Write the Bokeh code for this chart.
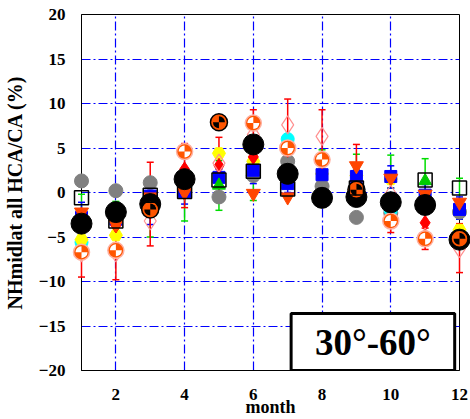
import math
from bokeh.plotting import figure
from bokeh.models import Range1d, FixedTicker, Label
from bokeh.embed import file_html
from bokeh.resources import INLINE

nan = float("nan")
months = [1, 2, 3, 4, 5, 6, 7, 8, 9, 10, 11, 12]
x_ticks = [2, 4, 6, 8, 10, 12]
y_ticks = [-20, -15, -10, -5, 0, 5, 10, 15, 20]

black_circle = [-3.5, -2.2, -1.3, 1.5, nan, 5.4, 2.1, -0.6, -0.5, -1.1, -1.4, -5.3]
open_square = [-0.6, -3.2, -0.3, 0.1, 1.4, 2.4, 0.4, nan, 0.5, nan, 1.4, 0.5]
gray_circle = [1.3, 0.2, 1.1, nan, -0.5, 1.9, 3.5, 0.7, -2.8, -2.3, -1.2, -2.2]
blue_square = [-2.8, -3.0, -0.4, 0.1, 1.7, 2.5, 1.0, 2.0, 1.8, 1.8, -0.3, -1.9]
yellow_pent = [-5.3, -4.8, nan, nan, 4.4, 3.5, nan, 2.1, 1.9, 1.5, nan, -4.2]
cyan_circle = [-5.6, nan, nan, nan, nan, nan, 6.0, nan, nan, -2.0, nan, nan]
green_tri = [nan, nan, nan, nan, 0.8, nan, nan, nan, nan, nan, 1.3, nan]
red_diamond = [-2.5, -3.7, nan, 2.6, 3.0, 4.0, 4.8, 3.5, nan, nan, -3.4, nan]
orange_tri_down = [-2.2, -3.6, -0.5, 0.0, nan, -0.1, -0.5, nan, 3.0, 1.6, -0.2, -1.1]
pink_diamond = [-6.8, -6.8, -3.2, nan, 3.3, 6.5, 7.6, 6.3, nan, -0.2, -5.0, -6.3]
orange_white = [-6.7, -6.5, nan, 4.6, nan, 7.8, 5.0, 3.7, nan, -3.2, -5.2, nan]
orange_black = [nan, nan, -1.9, nan, 7.9, nan, nan, nan, 0.3, nan, nan, -5.2]

red_err_low = [-9.5, -9.8, -6.0, -1.7, 0.0, 6.3, 4.7, 3.3, 0.6, -4.5, -6.4, -9.0]
red_err_high = [-3.9, -3.2, 3.4, 5.5, 6.2, 9.3, 10.5, 9.3, 5.4, -2.0, -4.0, -3.5]
green_err_low = [-4.5, -3.5, -5.0, -3.2, -2.0, -0.9, 1.0, 0.5, 0.8, 0.5, -1.2, -3.0]
green_err_high = [-0.2, -1.0, 1.0, 1.5, 3.6, 3.0, 3.5, 4.8, 4.3, 4.2, 3.8, 1.6]
blue_err_low = [-4.5, -4.4, -3.6, -1.3, 0.5, 1.0, 0.0, 1.0, 0.8, 0.5, -1.5, -3.0]
blue_err_high = [-1.1, -1.2, -0.3, 1.5, 2.6, 3.2, 1.8, 3.0, 2.6, 3.0, 0.9, -0.5]

FONT = "Liberation Serif"
LVL = "overlay"

p = figure(width=470, height=419, output_backend="svg", toolbar_location=None,
           x_range=Range1d(1, 12), y_range=Range1d(-20, 20),
           min_border_left=73, min_border_right=11, min_border_top=14, min_border_bottom=49)
p.background_fill_color = "white"
p.border_fill_color = "white"
p.outline_line_color = "black"
p.outline_line_width = 1

# grid
p.xgrid.ticker = FixedTicker(ticks=[2, 4, 6, 8, 10])
p.ygrid.ticker = FixedTicker(ticks=[-15, -10, -5, 0, 5, 10, 15])
for g in (p.xgrid, p.ygrid):
    g.grid_line_color = "#0000FF"
    g.grid_line_dash = "9 3 2 3"
    g.grid_line_width = 1.2

# axes
p.xaxis.ticker = FixedTicker(ticks=x_ticks)
p.yaxis.ticker = FixedTicker(ticks=y_ticks)
for ax in (p.xaxis, p.yaxis):
    ax.major_tick_line_color = None
    ax.minor_tick_line_color = None
    ax.axis_line_color = "black"
    ax.major_label_text_font = FONT
    ax.major_label_text_font_style = "bold"
    ax.major_label_text_font_size = "17px"
    ax.major_label_text_color = "black"
    ax.axis_label_text_font = FONT
    ax.axis_label_text_font_style = "bold"
    ax.axis_label_text_color = "black"
p.xaxis.axis_label = "month"
p.yaxis.axis_label = "NHmidlat all HCA/CA (%)"
p.xaxis.axis_label_text_font_size = "18px"
p.yaxis.axis_label_text_font_size = "20px"
p.xaxis.major_label_standoff = 12
p.yaxis.major_label_standoff = 10
p.xaxis.axis_label_standoff = -6
p.yaxis.axis_label_standoff = 10

# error bars
def errbars(low, high, color):
    p.segment(x0=months, y0=low, x1=months, y1=high, line_color=color, line_width=1.5, level=LVL)
    p.scatter(x=months, y=low, marker="dash", size=7, line_color=color, line_width=1.5, level=LVL)
    p.scatter(x=months, y=high, marker="dash", size=7, line_color=color, line_width=1.5, level=LVL)

errbars(green_err_low, green_err_high, "#00DD00")
errbars(blue_err_low, blue_err_high, "#0000FF")
errbars(red_err_low, red_err_high, "#FF0000")

# markers
p.scatter(x=months, y=gray_circle, marker="circle", size=14, fill_color="#808080", line_color="#808080", level=LVL)
p.scatter(x=months, y=cyan_circle, marker="circle", size=13, fill_color="#00FFFF", line_color="#00FFFF", level=LVL)
p.scatter(x=months, y=yellow_pent, marker="hex", size=13, fill_color="#FFFF00", line_color="#FFFF00", level=LVL)
p.scatter(x=months, y=blue_square, marker="square", size=12, fill_color="#0000FF", line_color="#0000FF", level=LVL)
p.scatter(x=months, y=green_tri, marker="triangle", size=13, fill_color="#00CC00", line_color="#00CC00", level=LVL)
p.scatter(x=months, y=red_diamond, marker="diamond", size=15, fill_color="#FF0000", line_color="#FF0000", level=LVL)
p.scatter(x=months, y=orange_tri_down, marker="inverted_triangle", size=14, fill_color="#FF4500", line_color="#FF4500", level=LVL)
p.scatter(x=months, y=pink_diamond, marker="diamond", size=18, fill_color=None, line_color="#FF9090", line_width=1.2, level=LVL)

# orange circles with white quadrants
p.scatter(x=months, y=orange_white, marker="circle", size=16, fill_color="#FF5500", line_color="#FFB0A0", line_width=1.5, level=LVL)
p.wedge(x=months, y=orange_white, radius=6, radius_units="screen",
        start_angle=math.pi / 2, end_angle=math.pi, fill_color="white", line_color=None, level=LVL)
p.wedge(x=months, y=orange_white, radius=6, radius_units="screen",
        start_angle=3 * math.pi / 2, end_angle=2 * math.pi, fill_color="white", line_color=None, level=LVL)

# black circles
p.scatter(x=months, y=black_circle, marker="circle", size=21, fill_color="black", line_color="black", level=LVL)

# orange circles with black quadrants
p.scatter(x=months, y=orange_black, marker="circle", size=17, fill_color="#FF5500", line_color="black", line_width=1.5, level=LVL)
p.wedge(x=months, y=orange_black, radius=6, radius_units="screen",
        start_angle=0, end_angle=math.pi / 2, fill_color="black", line_color=None, level=LVL)
p.wedge(x=months, y=orange_black, radius=6, radius_units="screen",
        start_angle=math.pi, end_angle=3 * math.pi / 2, fill_color="black", line_color=None, level=LVL)

# open squares
p.scatter(x=months, y=open_square, marker="square", size=14, fill_color=None, line_color="black", line_width=1.5, level=LVL)

# region label box
p.quad(left=[7.1], right=[11.86], top=[-13.6], bottom=[-20.0], fill_color="white",
       line_color="black", line_width=3)
p.add_layout(Label(x=9.48, y=-16.8, text="30°-60°", text_align="center", text_baseline="middle",
                   text_font=FONT, text_font_style="bold", text_font_size="37px", text_color="black"))

open("out.html", "w").write(file_html(p, INLINE))
